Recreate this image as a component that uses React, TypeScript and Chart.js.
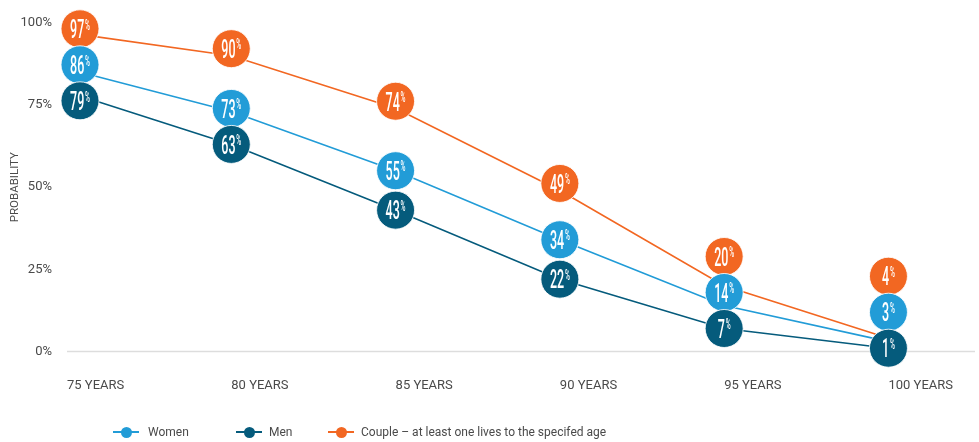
import { useEffect, useRef } from 'react';
import { Chart, registerables } from 'chart.js';

Chart.register(...registerables);

const ageLabels = ['75 YEARS', '80 YEARS', '85 YEARS', '90 YEARS', '95 YEARS', '100 YEARS'];
const womenValues = [86, 73, 55, 34, 14, 3];
const menValues = [79, 63, 43, 22, 7, 1];
const coupleValues = [97, 90, 74, 49, 20, 4];
const yTickValues = [0, 25, 50, 75, 100];

const WOMEN_COLOR = '#229CD7';
const MEN_COLOR = '#055B7C';
const COUPLE_COLOR = '#F26722';
const TEXT_COLOR = '#4a4a4a';

function drawBubble(ctx: CanvasRenderingContext2D, cx: number, cy: number, r: number, color: string, value: number) {
  ctx.save();
  ctx.beginPath();
  ctx.arc(cx, cy, r, 0, Math.PI * 2);
  ctx.fillStyle = color;
  ctx.fill();
  ctx.lineWidth = 1;
  ctx.strokeStyle = 'rgba(255,255,255,0.85)';
  ctx.stroke();

  const sx = 0.48;
  const numSize = 26;
  const pctSize = 14;
  const numFont = `500 ${numSize}px Roboto`;
  const pctFont = `500 ${pctSize}px Roboto`;
  const txt = String(value);
  ctx.font = numFont;
  const numW = ctx.measureText(txt).width * sx;
  ctx.font = pctFont;
  const pctW = ctx.measureText('%').width * sx;
  const total = numW + 0.8 + pctW;
  const left = cx - total / 2;
  const capH = numSize * 0.711;
  const base = cy + capH / 2;
  ctx.fillStyle = '#ffffff';
  ctx.textBaseline = 'alphabetic';
  ctx.textAlign = 'left';
  ctx.translate(left, base);
  ctx.scale(sx, 1);
  ctx.font = numFont;
  ctx.fillText(txt, 0, 0);
  ctx.font = pctFont;
  ctx.fillText('%', (numW + 0.8) / sx, -capH + pctSize * 0.711);
  ctx.restore();
}

const bubblePlugin = {
  id: 'bubbles',
  beforeDatasetsDraw(chart: any) {
    const { ctx, chartArea, scales } = chart;
    const py = scales.y.getPixelForValue(0);
    ctx.save();
    ctx.strokeStyle = '#dddddd';
    ctx.lineWidth = 1.5;
    ctx.beginPath();
    ctx.moveTo(chartArea.left, py);
    ctx.lineTo(chart.width - 4, py);
    ctx.stroke();
    ctx.restore();
  },
  afterDatasetsDraw(chart: any, _args: any, opts: any) {
    const { ctx, chartArea, scales } = chart;
    const r = opts.radius;
    const gap = opts.gap;
    const n = chart.data.labels.length;
    for (let i = 0; i < n; i++) {
      const items = chart.data.datasets.map((ds: any) => ({
        value: ds.data[i] as number,
        color: ds.borderColor as string,
        y: scales.y.getPixelForValue(ds.data[i]) - (ds.bubbleLift || 0),
      }));
      items.sort((a: any, b: any) => b.y - a.y);
      for (let k = 1; k < items.length; k++) {
        items[k].y = Math.min(items[k].y, items[k - 1].y - gap);
      }
      const top = items[items.length - 1].y;
      const minTop = chartArea.top + opts.topInset;
      if (top < minTop) items.forEach((it: any) => (it.y += minTop - top));
      const cx = Math.max(scales.x.getPixelForValue(i), chartArea.left + opts.leftInset);
      items.sort((a: any, b: any) => a.y - b.y);
      items.forEach((it: any) => drawBubble(ctx, cx, it.y, r, it.color, it.value));
    }
  },
};

function LegendItem({ color, label, markerLeft, textLeft }: { color: string; label: string; markerLeft: number; textLeft: number }) {
  return (
    <>
      <div style={{ position: 'absolute', left: markerLeft, top: 431, width: 26, height: 1.6, background: color }} />
      <div
        style={{
          position: 'absolute',
          left: markerLeft + 13 - 5.5,
          top: 432 - 5.5,
          width: 11,
          height: 11,
          borderRadius: '50%',
          background: color,
        }}
      />
      <div
        style={{
          position: 'absolute',
          left: textLeft,
          top: 432 - 8,
          height: 16,
          lineHeight: '16px',
          fontFamily: 'Roboto, sans-serif',
          fontSize: 12,
          color: TEXT_COLOR,
          whiteSpace: 'nowrap',
        }}
      >
        {label}
      </div>
    </>
  );
}

export default function App() {
  const canvasRef = useRef<HTMLCanvasElement | null>(null);

  useEffect(() => {
    if (!canvasRef.current) return;
    const tickFont = { family: 'Roboto', size: 13 };
    const chart = new Chart(canvasRef.current, {
      type: 'line',
      data: {
        labels: ageLabels,
        datasets: [
          { label: 'Women', data: womenValues, borderColor: WOMEN_COLOR, backgroundColor: WOMEN_COLOR },
          { label: 'Men', data: menValues, borderColor: MEN_COLOR, backgroundColor: MEN_COLOR },
          {
            label: 'Couple – at least one lives to the specifed age',
            data: coupleValues,
            borderColor: COUPLE_COLOR,
            backgroundColor: COUPLE_COLOR,
            bubbleLift: 7,
          } as any,
        ],
      },
      options: {
        animation: false,
        responsive: true,
        maintainAspectRatio: false,
        layout: { padding: { left: 0, right: 78, top: 17, bottom: 0 } },
        elements: { point: { radius: 0, hoverRadius: 0 }, line: { borderWidth: 1.6, tension: 0 } },
        plugins: {
          legend: { display: false },
          tooltip: { enabled: false },
          bubbles: { radius: 19, gap: 36, topInset: 6, leftInset: 13 },
        } as any,
        scales: {
          x: {
            type: 'category',
            offset: false,
            grid: { display: false, drawTicks: false },
            border: { display: false },
            ticks: { align: 'start', padding: 26, color: TEXT_COLOR, font: tickFont, autoSkip: false, maxRotation: 0 },
            afterFit: (s: any) => {
              s.height = 90.5;
            },
          },
          y: {
            min: 0,
            max: 100,
            grid: { display: false, drawTicks: false },
            border: { display: false },
            ticks: { padding: 15, color: TEXT_COLOR, font: tickFont, callback: (v: any) => v + '%' },
            afterBuildTicks: (s: any) => {
              s.ticks = yTickValues.map((v) => ({ value: v }));
            },
            title: {
              display: true,
              text: 'PROBABILITY',
              color: TEXT_COLOR,
              font: { family: 'Roboto', size: 11.5 },
              padding: { top: 8, bottom: 0 },
            },
            afterFit: (s: any) => {
              s.width = 67;
            },
          },
        } as any,
      },
      plugins: [bubblePlugin],
    });
    return () => chart.destroy();
  }, []);

  return (
    <div style={{ position: 'absolute', left: 0, top: 0, width: 979, height: 442, background: '#ffffff', overflow: 'hidden' }}>
      <canvas ref={canvasRef} style={{ display: 'block', width: 979, height: 442 }} />
      <LegendItem color={WOMEN_COLOR} label="Women" markerLeft={113} textLeft={148} />
      <LegendItem color={MEN_COLOR} label="Men" markerLeft={236} textLeft={269} />
      <LegendItem color={COUPLE_COLOR} label="Couple – at least one lives to the specifed age" markerLeft={328} textLeft={361} />
    </div>
  );
}
